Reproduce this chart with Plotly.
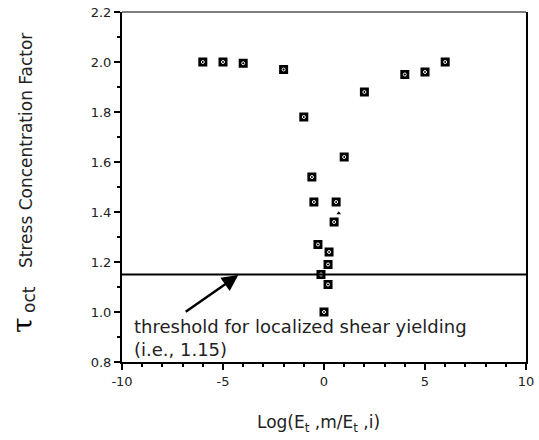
import plotly.graph_objects as go

# Octahedral shear stress concentration vs. log modulus ratio
log_modulus_ratio = [-6, -5, -4, -2, -1, -0.6, -0.5, -0.3, -0.15, 0,
                     0.2, 0.2, 0.25, 0.5, 0.6, 1, 2, 4, 5, 6]
tau_oct_factor = [2.0, 2.0, 1.995, 1.97, 1.78, 1.54, 1.44, 1.27, 1.15, 1.0,
                  1.11, 1.19, 1.24, 1.36, 1.44, 1.62, 1.88, 1.95, 1.96, 2.0]

# stray triangle point near the centre of the V
tri_x = [0.73]
tri_y = [1.395]

threshold = 1.15

x_tickvals = [-10, -5, 0, 5, 10]
x_ticktext = ["-10", "-5", "0", "5", "10"]
y_tickvals = [0.8, 1.0, 1.2, 1.4, 1.6, 1.8, 2.0, 2.2]
y_ticktext = ["0.8", "1.0", "1.2", "1.4", "1.6", "1.8", "2.0", "2.2"]

FONT = "DejaVu Sans"
W, H = 539, 440
L, R, T, B = 122, 13, 12, 78
pw, ph = W - L - R, H - T - B


def px_x(p):
    return (p - L) / pw


def px_y(p):
    return 1 - (p - T) / ph


fig = go.Figure()

fig.add_trace(go.Scatter(
    x=log_modulus_ratio, y=tau_oct_factor, mode="markers",
    marker=dict(symbol="square", size=9, color="black",
                line=dict(width=0)),
    showlegend=False, hoverinfo="x+y",
))
# small white glyph inside each square marker
fig.add_trace(go.Scatter(
    x=log_modulus_ratio, y=tau_oct_factor, mode="markers",
    marker=dict(symbol="circle-open", size=3, color="white",
                line=dict(width=1, color="white")),
    showlegend=False, hoverinfo="skip",
))
fig.add_trace(go.Scatter(
    x=tri_x, y=tri_y, mode="markers",
    marker=dict(symbol="triangle-up", size=4, color="black"),
    showlegend=False, hoverinfo="skip",
))

# threshold for localized shear yielding
fig.add_shape(type="line", xref="x", yref="y",
              x0=-10, x1=10, y0=threshold, y1=threshold,
              line=dict(color="black", width=2))

# thin top border
fig.add_shape(type="line", xref="paper", yref="paper",
              x0=0, x1=1, y0=1, y1=1,
              line=dict(color="black", width=1))

fig.add_annotation(
    x=-4.24, y=threshold - 0.002, ax=-6.92, ay=0.997,
    xref="x", yref="y", axref="x", ayref="y",
    showarrow=True, arrowhead=2, arrowsize=1.3, arrowwidth=2.5,
    arrowcolor="black", text="",
)
fig.add_annotation(
    x=-9.5, y=0.942, xref="x", yref="y", xanchor="left", yanchor="middle",
    text="threshold for localized shear yielding", showarrow=False,
    font=dict(family=FONT, size=18, color="#222"),
)
fig.add_annotation(
    x=-9.5, y=0.85, xref="x", yref="y", xanchor="left", yanchor="middle",
    text="(i.e., 1.15)", showarrow=False,
    font=dict(family=FONT, size=18, color="#222"),
)

# y-axis title pieces
fig.add_annotation(
    x=px_x(22), y=px_y(325), xref="paper", yref="paper", text="τ",
    showarrow=False, textangle=-90, xanchor="center", yanchor="middle",
    font=dict(family="DejaVu Serif", size=28, color="black"),
)
fig.add_annotation(
    x=px_x(29), y=px_y(300), xref="paper", yref="paper", text="oct",
    showarrow=False, textangle=-90, xanchor="center", yanchor="middle",
    font=dict(family=FONT, size=17, color="#222"),
)
fig.add_annotation(
    x=px_x(26), y=px_y(151), xref="paper", yref="paper",
    text="Stress Concentration Factor", showarrow=False,
    textangle=-90, xanchor="center", yanchor="middle",
    font=dict(family=FONT, size=17, color="#222"),
)
# x-axis title
fig.add_annotation(
    x=px_x(318), y=px_y(423), xref="paper", yref="paper",
    text="Log(E<sub>t</sub> ,m/E<sub>t</sub> ,i)", showarrow=False,
    xanchor="center", yanchor="middle",
    font=dict(family=FONT, size=17, color="#222"),
)

fig.update_layout(
    width=W, height=H,
    margin=dict(l=L, r=R, t=T, b=B, autoexpand=False),
    paper_bgcolor="white", plot_bgcolor="white",
    font=dict(family=FONT, size=13, color="#222"),
    xaxis=dict(
        range=[-10, 10], tickvals=x_tickvals, ticktext=x_ticktext,
        showgrid=False, zeroline=False,
        showline=True, linecolor="black", linewidth=2, mirror=False,
        ticks="outside", ticklen=6, tickwidth=2, tickcolor="black",
        minor=dict(dtick=1, ticks="outside", ticklen=3, tickwidth=1.5,
                   tickcolor="black", showgrid=False),
        tickfont=dict(family=FONT, size=13, color="#222"),
    ),
    yaxis=dict(
        range=[0.8, 2.2], tickvals=y_tickvals, ticktext=y_ticktext,
        showgrid=False, zeroline=False,
        showline=True, linecolor="black", linewidth=2, mirror=True,
        ticks="outside", ticklen=6, tickwidth=2, tickcolor="black",
        minor=dict(dtick=0.1, ticks="outside", ticklen=3, tickwidth=1.5,
                   tickcolor="black", showgrid=False),
        tickfont=dict(family=FONT, size=13, color="#222"),
    ),
)

fig.write_html("out.html")
